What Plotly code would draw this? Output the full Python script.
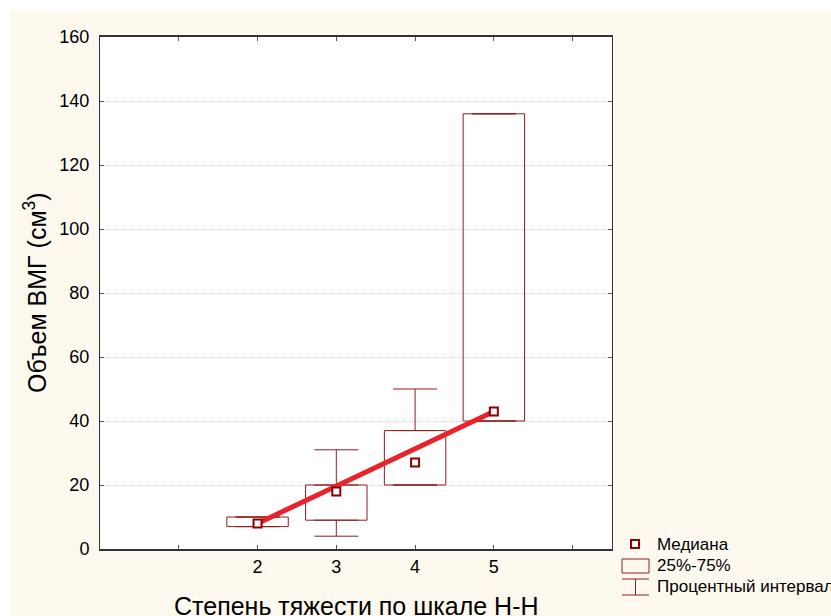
import plotly.graph_objects as go

# ---- data ----
categories = [2, 3, 4, 5]
q1 = [7, 9, 20, 40]
q3 = [10, 20, 37, 136]
median = [8, 18, 27, 43]
lower = [7, 4, 20, 40]
upper = [10, 31, 50, 136]
trend_x = [2, 5]
trend_y = [8, 43]
x_tickvals = [1, 2, 3, 4, 5, 6]
x_ticktext = ["", "2", "3", "4", "5", ""]
y_tickvals = [0, 20, 40, 60, 80, 100, 120, 140, 160]

BOX = "#8E1F1F"
FONT = "Liberation Sans, Arial, sans-serif"
W, H = 831, 616
L, R, T, B = 100, 219, 37, 67
PW, PH = W - L - R, H - T - B

def px(x):
    return (x - L) / PW

def py(y):
    return (H - B - y) / PH

fig = go.Figure()

# boxes (25%-75%)
fig.add_trace(go.Bar(
    x=categories, y=[b - a for a, b in zip(q1, q3)], base=q1, width=0.78,
    marker=dict(color="rgba(255,255,255,0)", line=dict(color=BOX, width=1)),
    showlegend=False, hoverinfo="skip"))

# whiskers
fig.add_trace(go.Scatter(
    x=categories, y=q3, mode="markers", marker=dict(size=1, opacity=0),
    error_y=dict(type="data", symmetric=False,
                 array=[u - a for u, a in zip(upper, q3)],
                 arrayminus=[0] * len(q3), color=BOX, thickness=1, width=22),
    showlegend=False, hoverinfo="skip"))
fig.add_trace(go.Scatter(
    x=categories, y=q1, mode="markers", marker=dict(size=1, opacity=0),
    error_y=dict(type="data", symmetric=False, array=[0] * len(q1),
                 arrayminus=[a - l for a, l in zip(q1, lower)],
                 color=BOX, thickness=1, width=22),
    showlegend=False, hoverinfo="skip"))

# trend line
fig.add_trace(go.Scatter(
    x=trend_x, y=trend_y, mode="lines",
    line=dict(color="#E8232B", width=5), showlegend=False, hoverinfo="skip"))

# medians
fig.add_trace(go.Scatter(
    x=categories, y=median, mode="markers",
    marker=dict(symbol="square", size=8, color="white",
                line=dict(color="#8B0000", width=2)),
    showlegend=False))

shapes = [
    # white page strips
    dict(type="rect", xref="paper", yref="paper", x0=px(0), x1=px(W), y0=py(0), y1=py(10),
         fillcolor="white", line=dict(width=0), layer="below"),
    dict(type="rect", xref="paper", yref="paper", x0=px(0), x1=px(10), y0=py(0), y1=py(H),
         fillcolor="white", line=dict(width=0), layer="below"),
    # legend symbols
    dict(type="rect", xref="paper", yref="paper", x0=px(631), x1=px(639), y0=py(540), y1=py(548),
         fillcolor="white", line=dict(color="#8B0000", width=2)),
    dict(type="rect", xref="paper", yref="paper", x0=px(622), x1=px(649), y0=py(559), y1=py(573),
         fillcolor="rgba(0,0,0,0)", line=dict(color=BOX, width=1)),
    dict(type="line", xref="paper", yref="paper", x0=px(622), x1=px(649), y0=py(579), y1=py(579),
         line=dict(color=BOX, width=1)),
    dict(type="line", xref="paper", yref="paper", x0=px(622), x1=px(649), y0=py(595), y1=py(595),
         line=dict(color=BOX, width=1)),
    dict(type="line", xref="paper", yref="paper", x0=px(635.5), x1=px(635.5), y0=py(579), y1=py(595),
         line=dict(color=BOX, width=1)),
]

annotations = [
    dict(text="Медиана", xref="paper", yref="paper", x=px(655), y=py(544),
         xanchor="left", yanchor="middle", showarrow=False, font=dict(size=17, color="black", family=FONT)),
    dict(text="25%-75%", xref="paper", yref="paper", x=px(655), y=py(565),
         xanchor="left", yanchor="middle", showarrow=False, font=dict(size=17, color="black", family=FONT)),
    dict(text="Процентный интервал", xref="paper", yref="paper", x=px(655), y=py(586),
         xanchor="left", yanchor="middle", showarrow=False, font=dict(size=17, color="black", family=FONT)),
    dict(text="Объем ВМГ (см<sup>3</sup>)", xref="paper", yref="paper", x=px(35), y=0.5,
         xanchor="center", yanchor="middle", textangle=-90, showarrow=False,
         font=dict(size=25, color="black", family=FONT)),
    dict(text="Степень тяжести по шкале Н-Н", xref="paper", yref="paper", x=0.5, y=py(606),
         xanchor="center", yanchor="middle", showarrow=False,
         font=dict(size=25, color="black", family=FONT)),
]

fig.update_layout(
    width=W, height=H, margin=dict(l=L, r=R, t=T, b=B, autoexpand=False),
    paper_bgcolor="#FEF9EF", plot_bgcolor="white",
    font=dict(family=FONT, size=18, color="black"),
    shapes=shapes, annotations=annotations, showlegend=False, barmode="overlay",
    xaxis=dict(range=[0, 6.5], tickvals=x_tickvals, ticktext=x_ticktext,
               showgrid=False, zeroline=False, showline=True, linecolor="#333333", linewidth=2,
               mirror="allticks", ticks="inside", ticklen=4, tickcolor="#555555",
               tickfont=dict(size=18, color="black")),
    yaxis=dict(range=[0, 160], tickvals=y_tickvals,
               showgrid=True, gridcolor="#D2D2D2", griddash="1px,1px", gridwidth=1,
               zeroline=False, showline=True, linecolor="#333333", linewidth=1,
               mirror="allticks", ticks="inside", ticklen=4, tickcolor="#555555",
               tickfont=dict(size=18, color="black"), ticklabelstandoff=6),
)

fig.write_html("out.html", config={"displayModeBar": False},
               post_script="document.body.style.margin='0';document.body.style.padding='0';")
